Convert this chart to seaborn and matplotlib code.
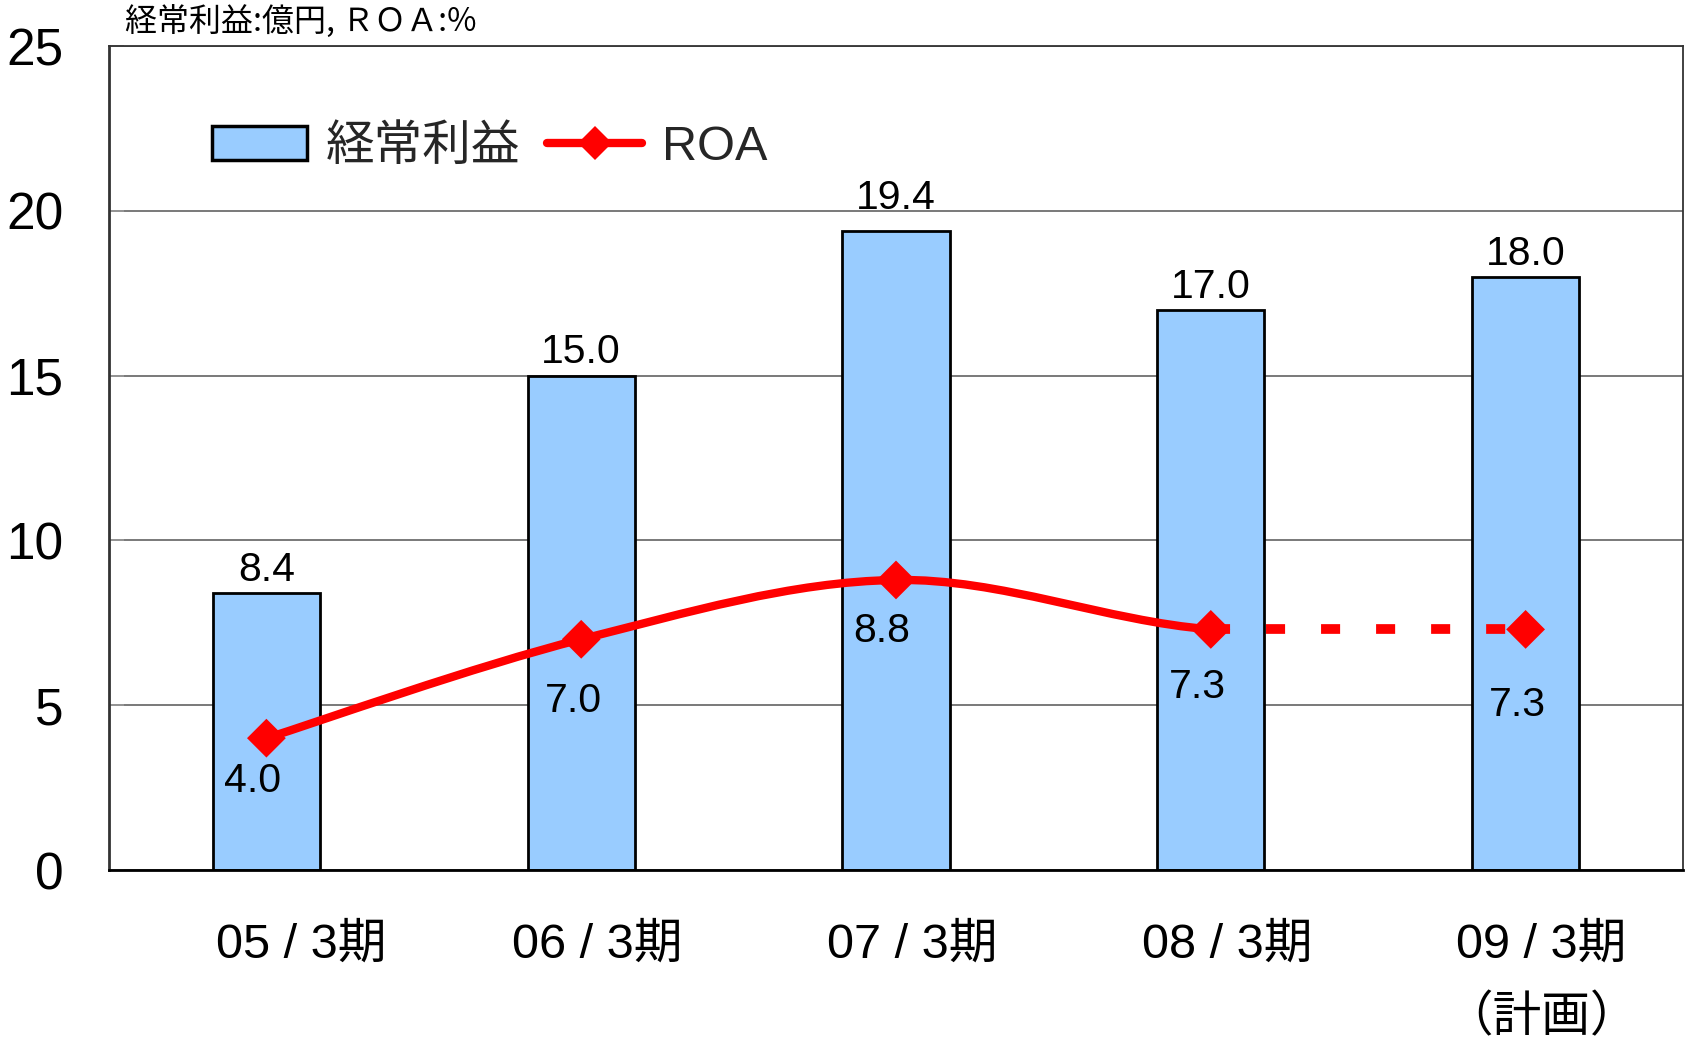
import matplotlib
matplotlib.use("Agg")
import matplotlib.pyplot as plt
import matplotlib.transforms as mtransforms
from matplotlib.path import Path
from matplotlib.patches import PathPatch, Patch
from matplotlib.lines import Line2D
import seaborn as sns
import numpy as np
import pandas as pd

# ---- data ----
categories = ["05 / 3期", "06 / 3期", "07 / 3期", "08 / 3期", "09 / 3期\n（計画）"]
profit = [8.4, 15.0, 19.4, 17.0, 18.0]          # 経常利益 (億円)
roa = [4.0, 7.0, 8.8, 7.3, 7.3]                 # ROA (%)
n_actual = 4                                    # first 4 are actual, last is plan
y_ticks = [0, 5, 10, 15, 20, 25]
unit_label = "経常利益:億円, ＲＯＡ:%"
legend_labels = ["経常利益", "ROA"]

BAR_COLOR = "#99CCFF"
RED = "#FF0000"

sns.set_theme(style="white")
plt.rcParams["font.family"] = ["Liberation Sans", "Noto Sans CJK JP", "DejaVu Sans"]

fig = plt.figure(figsize=(16.88, 10.40), dpi=100)
ax = fig.add_axes([109 / 1688, 1 - 870 / 1040, (1683 - 109) / 1688, (870 - 46) / 1040])

df = pd.DataFrame({"cat": categories, "profit": profit, "roa": roa})

sns.barplot(data=df, x="cat", y="profit", color=BAR_COLOR, saturation=1,
            edgecolor="black", linewidth=2.0, width=0.34, ax=ax, zorder=2)

# value labels above bars
bar_texts = []
for cont in ax.containers:
    bar_texts += ax.bar_label(cont, labels=[f"{v:.1f}" for v in profit], padding=3,
                              fontsize=29.5, color="black")
bar_texts[2].set_position((0, 10))  # 19.4 label sits a little higher

# smoothed ROA line for actual periods (Catmull-Rom through the points;
# the plan point only steers the tangent at the last actual point)
xs = np.arange(len(categories), dtype=float)
all_pts = np.column_stack([xs, np.array(roa, dtype=float)])
verts = [tuple(all_pts[0])]
codes = [Path.MOVETO]
for i in range(n_actual - 1):
    p0 = all_pts[i - 1] if i > 0 else all_pts[i]
    p1 = all_pts[i]
    p2 = all_pts[i + 1]
    p3 = all_pts[i + 2] if i + 2 < len(all_pts) else all_pts[i + 1]
    c1 = p1 + (p2 - p0) / 6.0
    c2 = p2 - (p3 - p1) / 6.0
    verts += [tuple(c1), tuple(c2), tuple(p2)]
    codes += [Path.CURVE4] * 3
ax.add_patch(PathPatch(Path(verts, codes), fill=False, edgecolor=RED, lw=6,
                       joinstyle="round", capstyle="butt", zorder=4,
                       transform=ax.transData))

# dashed plan segment
plan_df = pd.DataFrame({"x": xs[n_actual - 1:], "y": roa[n_actual - 1:]})
sns.lineplot(data=plan_df, x="x", y="y", color=RED, lw=7, ax=ax, zorder=4,
             linestyle=(0, (1.96, 3.7)))
ax.lines[-1].set_dash_capstyle("butt")

# markers
sns.scatterplot(x=xs, y=roa, marker="D", s=390, color=RED, edgecolor="none",
                linewidth=0, ax=ax, zorder=5)

# ROA labels below markers
roa_offsets = [(-14, -43), (-8, -62), (-14, -51), (-13, -58), (-8, -76)]
for xi, v, (dx, dy) in zip(xs, roa, roa_offsets):
    ax.annotate(f"{v:.1f}", (xi, v), xytext=(dx, dy), textcoords="offset pixels",
                ha="center", va="center", fontsize=29.5, color="black", zorder=6)

# axes styling
ax.set_xlim(-0.5, len(categories) - 0.5)
ax.set_ylim(0, 25)
ax.set_yticks(y_ticks)
ax.set_yticklabels([str(t) for t in y_ticks])
ax.set_xlabel("")
ax.set_ylabel("")
ax.yaxis.grid(True, color="#555555", lw=1.1, zorder=0)
ax.xaxis.grid(False)
ax.set_axisbelow(True)
for side in ["left", "top", "right", "bottom"]:
    ax.spines[side].set_visible(True)
    ax.spines[side].set_color("#333333")
    ax.spines[side].set_linewidth(1.3)
ax.spines["bottom"].set_color("black")
ax.spines["bottom"].set_linewidth(2)
ax.spines["left"].set_linewidth(2)

ax.tick_params(axis="y", direction="in", length=11, width=1.2, color="#999999",
               pad=33, labelsize=37, labelcolor="black", left=True)
ax.tick_params(axis="x", length=0, pad=38, labelsize=35, labelcolor="black")

label_shift_px = [35, 16, 16, 16, 16]
for lbl, sh in zip(ax.get_xticklabels(), label_shift_px):
    lbl.set_linespacing(1.75)
    lbl.set_transform(lbl.get_transform() +
                      mtransforms.ScaledTranslation(sh / 100, 0, fig.dpi_scale_trans))

# legend
handles = [
    Patch(facecolor=BAR_COLOR, edgecolor="black", linewidth=2.5),
    Line2D([0], [0], color=RED, lw=6, marker="D", markersize=17,
           markeredgewidth=0, solid_capstyle="round"),
]
leg = ax.legend(handles, legend_labels, loc="center left",
                bbox_to_anchor=(0.0654, 0.877), ncol=2, frameon=False,
                borderpad=0, borderaxespad=0, handlelength=1.95,
                handleheight=0.72, handletextpad=0.4, columnspacing=0.55,
                prop={"family": ["Liberation Sans", "Noto Sans CJK JP"], "size": 35})

# unit label
fig.text(125 / 1688, 1 - 22 / 1040, unit_label, ha="left", va="center",
         fontsize=23, family=["Noto Sans CJK JP", "DejaVu Sans"], color="black")

fig.savefig("out.png", dpi=100, facecolor="white")
